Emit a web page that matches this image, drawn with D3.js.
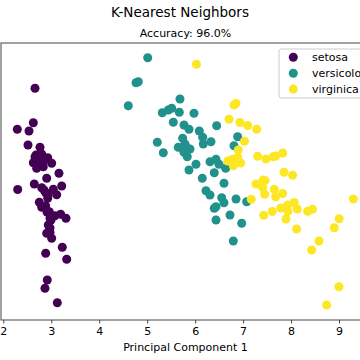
<!DOCTYPE html>
<html><head><meta charset="utf-8">
<script src="https://cdn.jsdelivr.net/npm/d3@7"></script>
<style>body{margin:0;background:#fff}svg{display:block}</style>
</head><body><svg id="c" width="360" height="360"></svg>
<script>
const classes = ["setosa","versicolor","virginica"];
const colors = ["#440154","#21918c","#fde725"];
const xTicks = [2,3,4,5,6,7,8,9];
const setosaX = [2.661,2.626,2.292,2.536,2.515,2.765,2.682,2.801,2.821,2.926,2.626,3.009,2.696,2.834,3.161,2.905,2.300,2.646,2.801,3.043,3.218,2.884,3.113,2.926,2.751,2.801,2.884,2.959,3.078,3.197,3.307,2.974,2.938,2.974,2.905,2.974,3.009,3.230,2.884,3.322,2.917,2.869,3.126,2.849,2.724,2.911,2.849,2.661,2.932,2.995];
const setosaY = [0.917,0.573,0.507,0.49,0.35,0.327,0.25,0.26,0.207,0.223,0.173,0.167,0.117,0.133,0.067,0.017,-0.095,-0.04,-0.077,-0.093,-0.06,-0.127,-0.147,-0.183,-0.223,-0.273,-0.26,-0.317,-0.357,-0.343,-0.383,-0.383,-0.45,-0.48,-0.533,-0.523,-0.583,-0.673,-0.733,-0.793,-1.0,-1.083,-1.227,0.2,0.17,-0.32,-0.1,0.23,-0.15,-0.40];
const versicolorX = [5.011,4.767,4.815,4.606,5.684,5.315,5.440,5.511,5.670,5.976,5.545,5.768,5.872,6.449,6.087,6.157,5.740,5.211,5.788,6.170,6.331,5.649,5.740,5.893,5.336,5.768,5.836,6.310,6.435,6.018,6.887,6.810,6.497,6.637,5.872,6.399,6.149,6.602,6.226,6.310,6.554,6.602,6.852,7.075,6.435,6.399,6.727,6.435,6.971,6.796,5.809,5.774];
const versicolorY = [1.223,0.973,0.983,0.743,0.81,0.673,0.70,0.717,0.677,0.667,0.577,0.55,0.507,0.543,0.49,0.427,0.417,0.377,0.36,0.36,0.383,0.327,0.317,0.31,0.273,0.277,0.233,0.183,0.207,0.157,0.433,0.343,0.157,0.117,0.10,0.073,0.017,-0.033,-0.107,-0.15,-0.177,-0.227,-0.19,-0.217,-0.267,-0.283,-0.35,-0.40,-0.433,-0.61,0.333,0.283];
const virginicaX = [6.028,6.810,6.852,6.706,6.935,7.096,7.283,7.029,6.900,6.679,6.775,6.887,6.796,6.950,7.304,7.477,7.630,7.680,7.825,7.853,8.034,7.269,7.421,7.456,7.408,7.650,7.825,7.450,7.680,7.171,8.067,7.930,7.784,7.936,8.130,7.609,7.429,8.347,8.447,7.894,9.003,9.298,8.901,8.117,8.582,8.430,8.999,8.743];
const virginicaY = [1.157,0.75,0.765,0.607,0.575,0.545,0.507,0.387,0.30,0.19,0.207,0.225,0.143,0.17,0.237,0.21,0.233,0.24,0.27,0.077,0.047,-0.04,0.0,-0.005,-0.075,-0.093,-0.135,-0.142,-0.167,-0.193,-0.225,-0.25,-0.28,-0.312,-0.29,-0.315,-0.353,-0.312,-0.293,-0.39,-0.388,-0.19,-0.477,-0.49,-0.61,-0.70,-1.067,-1.25];
const title = "K-Nearest Neighbors";
const subtitle = "Accuracy: 96.0%";
const xLabel = "Principal Component 1";

(function(){
const svg = d3.select("#c");
const F = "DejaVu Sans, sans-serif";
const pL = 1, pR = 370, pT = 43, pB = 320;
const x = d3.scaleLinear().domain([2,9]).range([3.3,339]);
const y = d3.scaleLinear().domain([-1.4,1.37]).range([pB, pT]);

const series = [
  {name: classes[0], xs: setosaX, ys: setosaY, c: colors[0]},
  {name: classes[1], xs: versicolorX, ys: versicolorY, c: colors[1]},
  {name: classes[2], xs: virginicaX, ys: virginicaY, c: colors[2]}
];

svg.append("text").attr("x",180).attr("y",17.3).attr("text-anchor","middle")
  .attr("font-family",F).attr("font-size",13.5).attr("fill","#000").text(title);
svg.append("text").attr("x",(pL+pR)/2).attr("y",37.3).attr("text-anchor","middle")
  .attr("font-family",F).attr("font-size",11).attr("fill","#000").text(subtitle);

const g = svg.append("g");
series.forEach(s => {
  g.selectAll(null).data(s.xs.map((v,i)=>[v,s.ys[i]])).enter().append("circle")
    .attr("cx", d=>x(d[0])).attr("cy", d=>y(d[1])).attr("r",4.5).attr("fill", s.c);
});

svg.append("rect").attr("x",pL).attr("y",pT).attr("width",pR-pL).attr("height",pB-pT)
  .attr("fill","none").attr("stroke","#444").attr("stroke-width",1);

const ax = svg.append("g").attr("transform",`translate(0,${pB})`)
  .call(d3.axisBottom(x).tickValues(xTicks).tickFormat(d3.format("d")).tickSize(3.5).tickPadding(3.5));
ax.select(".domain").remove();
ax.selectAll(".tick line").attr("stroke","#444");
ax.selectAll(".tick text").attr("font-family",F).attr("font-size",11).attr("fill","#000");

svg.append("text").attr("x",(pL+pR)/2).attr("y",351).attr("text-anchor","middle")
  .attr("font-family",F).attr("font-size",11).attr("fill","#000").text(xLabel);

const lg = svg.append("g");
lg.append("rect").attr("x",279).attr("y",49).attr("width",100).attr("height",49).attr("rx",2.5)
  .attr("fill","#fff").attr("fill-opacity",0.8).attr("stroke","#ccc").attr("stroke-width",1);
series.forEach((s,i) => {
  const yy = 57.3 + i*15.9;
  lg.append("circle").attr("cx",293.3).attr("cy",yy).attr("r",4.5).attr("fill",s.c);
  lg.append("text").attr("x",312).attr("y",yy+3.8).attr("font-family",F).attr("font-size",11)
    .attr("fill","#000").text(s.name);
});
})();
</script></body></html>
